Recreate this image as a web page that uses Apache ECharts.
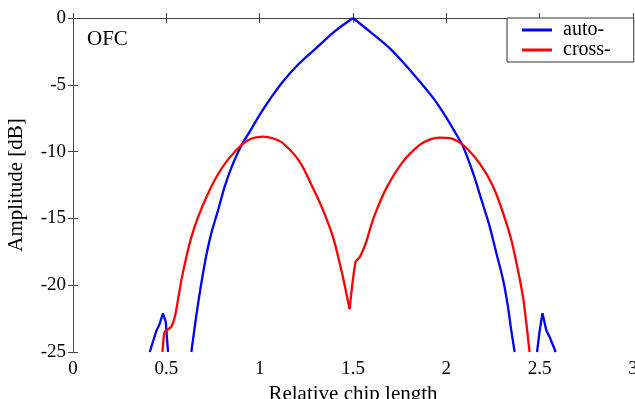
<!DOCTYPE html>
<html>
<head>
<meta charset="utf-8">
<script src="https://cdn.jsdelivr.net/npm/echarts@6/dist/echarts.min.js"></script>
<style>
  html, body { margin: 0; padding: 0; background: #fff; }
  #main { width: 635px; height: 399px; }
</style>
</head>
<body>
<div id="main"></div>
<script>
// 数据：点 [相对码片长度, 幅度dB]
var xTicks = [0, 0.5, 1, 1.5, 2, 2.5, 3];
var yTicks = [-25, -20, -15, -10, -5, 0];

var autoSideL = [[0.411,-25],[0.447,-23.4],[0.464,-22.9],[0.482,-22.1],[0.497,-22.75],[0.509,-25]];
var autoLeft = [
  [0.634,-25],[0.652,-23.13],[0.670,-21.4],[0.688,-19.8],[0.715,-17.7],[0.741,-16.1],[0.777,-14.4],
  [0.813,-12.6],[0.857,-10.9],[0.911,-9.3],[0.947,-8.5],[1.0,-7.25],[1.059,-6],[1.125,-4.75],[1.205,-3.5],
  [1.303,-2.25],[1.402,-1.0],[1.5,0]
];
var autoRight = [
  [1.5,0],[1.589,-1.0],[1.696,-2.25],[1.78,-3.5],[1.857,-4.75],[1.93,-6],[1.991,-7.25],[2.036,-8.3],
  [2.089,-9.6],[2.143,-11.6],[2.188,-13.6],[2.232,-15.6],[2.268,-17.6],[2.304,-19.6],[2.330,-21.6],
  [2.348,-23.4],[2.366,-25]
];
var autoSideR = [[2.486,-25],[2.5,-23.4],[2.515,-22.1],[2.536,-23.4],[2.554,-23.9],[2.586,-25]];
var crossLeft = [
  [0.479,-25],[0.486,-23.9],[0.491,-23.5],[0.509,-23.3],[0.527,-23.1],[0.545,-22.4],[0.5625,-21.1],
  [0.581,-19.6],[0.607,-17.9],[0.634,-16.4],[0.670,-14.9],[0.715,-13.4],[0.768,-11.9],[0.830,-10.6],
  [0.911,-9.4],[0.96,-9.0],[1.018,-8.875],[1.07,-9.0],[1.125,-9.375],[1.214,-10.75],[1.286,-12.75],
  [1.34,-14.4],[1.393,-16.4],[1.438,-18.9],[1.482,-21.8]
];
var crossRight = [
  [1.482,-21.8],[1.514,-18.25],[1.536,-17.9],[1.571,-16.75],[1.589,-15.9],[1.616,-14.75],[1.678,-12.75],
  [1.768,-10.75],[1.857,-9.5],[1.91,-9.1],[1.964,-8.95],[2.018,-9.0],[2.089,-9.5],[2.179,-10.9],
  [2.25,-12.6],[2.304,-14.6],[2.348,-16.6],[2.384,-18.9],[2.411,-20.9],[2.429,-22.9],[2.446,-25]
];

var myChart = echarts.init(document.getElementById('main'));
var serif = '"Liberation Serif", "DejaVu Serif", serif';
var axisColor = '#444';

function lineSeries(name, data, color, smooth) {
  return {
    name: name,
    type: 'line',
    data: data,
    showSymbol: false,
    symbol: 'none',
    smooth: smooth,
    clip: true,
    animation: false,
    lineStyle: { color: color, width: 2.3 },
    itemStyle: { color: color }
  };
}

var option = {
  animation: false,
  grid: { left: 73, right: 2, top: 18, bottom: 47, outerBoundsMode: 'none', containLabel: false },
  legend: {
    orient: 'vertical',
    left: 507,
    top: 18,
    data: ['auto-', 'cross-'],
    icon: 'rect',
    itemWidth: 30,
    itemHeight: 3,
    itemGap: 0,
    padding: [2, 23, 2, 15],
    borderColor: '#333',
    borderWidth: 1,
    borderRadius: 0,
    backgroundColor: '#fff',
    textStyle: { fontFamily: serif, fontSize: 20, color: '#000', lineHeight: 18, padding: [0, 0, 0, 6] }
  },
  graphic: [{
    type: 'text',
    left: 87,
    top: 29,
    style: { text: 'OFC', fontFamily: serif, fontSize: 21, fill: '#000' }
  }],
  xAxis: [{
    type: 'value',
    min: 0, max: 3, interval: 0.5,
    name: 'Relative chip length',
    nameLocation: 'middle',
    nameGap: 24,
    nameTextStyle: { fontFamily: serif, fontSize: 21, color: '#000' },
    axisLine: { show: true, lineStyle: { color: axisColor, width: 1 } },
    axisTick: { show: true, inside: true, length: 5, lineStyle: { color: axisColor } },
    axisLabel: { fontFamily: serif, fontSize: 19, color: '#000', margin: 8,
      formatter: function (v) { return xTicks.indexOf(v) >= 0 ? String(v) : ''; } },
    splitLine: { show: false }
  }, {
    type: 'value', position: 'top',
    min: 0, max: 3, interval: 0.5,
    axisLine: { show: true, lineStyle: { color: axisColor, width: 1 } },
    axisTick: { show: true, inside: true, length: 5, lineStyle: { color: axisColor } },
    axisLabel: { show: false },
    splitLine: { show: false }
  }],
  yAxis: [{
    type: 'value',
    min: -25, max: 0, interval: 5,
    name: 'Amplitude [dB]',
    nameLocation: 'middle',
    nameGap: 46,
    nameTextStyle: { fontFamily: serif, fontSize: 21, color: '#000' },
    axisLine: { show: true, lineStyle: { color: axisColor, width: 1 } },
    axisTick: { show: true, inside: true, length: 5, lineStyle: { color: axisColor } },
    axisLabel: { fontFamily: serif, fontSize: 19, color: '#000', margin: 7,
      formatter: function (v) { return yTicks.indexOf(v) >= 0 ? String(v) : ''; } },
    splitLine: { show: false }
  }, {
    type: 'value', position: 'right',
    min: -25, max: 0, interval: 5,
    axisLine: { show: true, lineStyle: { color: axisColor, width: 1 } },
    axisTick: { show: true, inside: true, length: 5, lineStyle: { color: axisColor } },
    axisLabel: { show: false },
    splitLine: { show: false }
  }],
  series: [
    lineSeries('auto-', autoSideL, '#0000ff', false),
    lineSeries('auto-', autoLeft, '#0000ff', 0.3),
    lineSeries('auto-', autoRight, '#0000ff', 0.3),
    lineSeries('auto-', autoSideR, '#0000ff', false),
    lineSeries('cross-', crossLeft, '#ff0000', 0.3),
    lineSeries('cross-', crossRight, '#ff0000', 0.3)
  ]
};

myChart.setOption(option);
</script>
</body>
</html>
